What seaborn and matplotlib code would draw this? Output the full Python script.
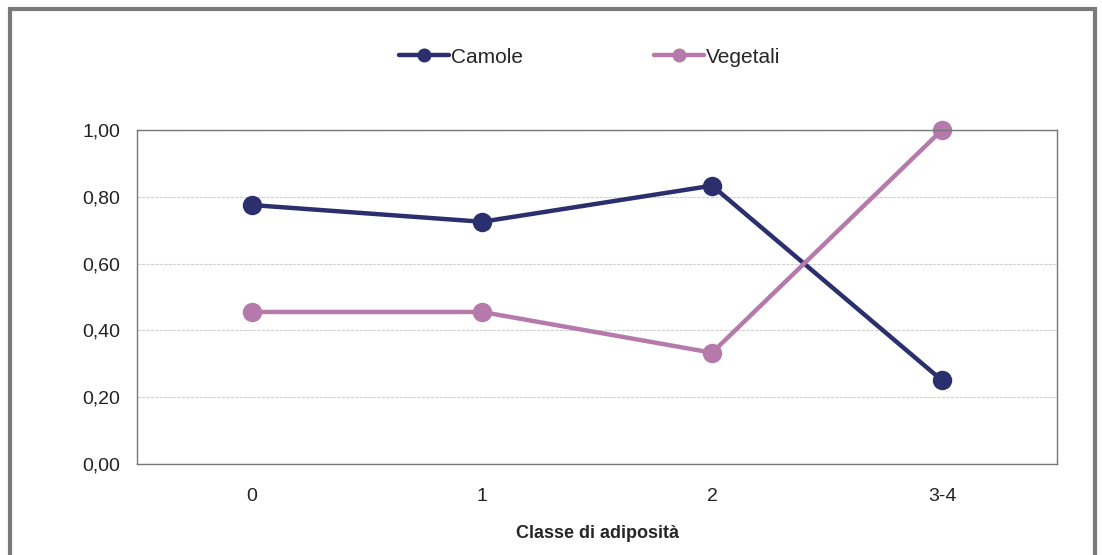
import matplotlib
matplotlib.use("Agg")
import matplotlib.pyplot as plt
import seaborn as sns
import pandas as pd
from matplotlib.patches import Rectangle
from matplotlib.ticker import FuncFormatter

# Dati
classi = ["0", "1", "2", "3-4"]
camole = [0.775, 0.725, 0.833, 0.25]
vegetali = [0.455, 0.455, 0.333, 1.00]

df = pd.DataFrame({
    "Classe": classi * 2,
    "Valore": camole + vegetali,
    "Serie": ["Camole"] * len(classi) + ["Vegetali"] * len(classi),
})

sns.set_style("white")
plt.rcParams["font.family"] = ["Liberation Sans", "DejaVu Sans"]

fig = plt.figure(figsize=(11.02, 5.55), dpi=100)
ax = fig.add_axes([0.1243, 0.164, 0.835, 0.602])

colori = {"Camole": "#2b2f6e", "Vegetali": "#b57aab"}
sns.lineplot(
    data=df, x="Classe", y="Valore", hue="Serie", palette=colori,
    marker="o", markersize=14, linewidth=3.2, markeredgewidth=0,
    ax=ax, clip_on=False,
)

ax.set_ylim(0, 1.0)
ax.set_xlim(-0.5, 3.5)
ax.set_yticks([0, 0.2, 0.4, 0.6, 0.8, 1.0])
ax.yaxis.set_major_formatter(FuncFormatter(lambda v, p: f"{v:.2f}".replace(".", ",")))
ax.grid(axis="y", color="#d0d0d0", linewidth=0.8, linestyle=(0, (3, 1)))
ax.set_axisbelow(True)
for s in ax.spines.values():
    s.set_color("#777777")
    s.set_linewidth(1.0)

ax.tick_params(axis="both", labelsize=14, colors="#222222", length=0)
ax.tick_params(axis="y", pad=12)
ax.tick_params(axis="x", pad=17)
ax.set_xlabel("Classe di adiposità", fontsize=13, fontweight="bold", labelpad=15)
ax.set_ylabel("")

ax.legend(
    loc="center", bbox_to_anchor=(0.492, 1.218), ncol=2, frameon=False,
    fontsize=15, columnspacing=6.3, handlelength=2.4, handletextpad=0.1,
    markerscale=0.72, borderaxespad=0,
)

# cornice esterna del grafico
fig.patches.append(Rectangle((0.009, -0.01), 0.985, 0.993, transform=fig.transFigure,
                             fill=False, edgecolor="#7a7a7a", linewidth=3))

fig.savefig("out.png", dpi=100)
